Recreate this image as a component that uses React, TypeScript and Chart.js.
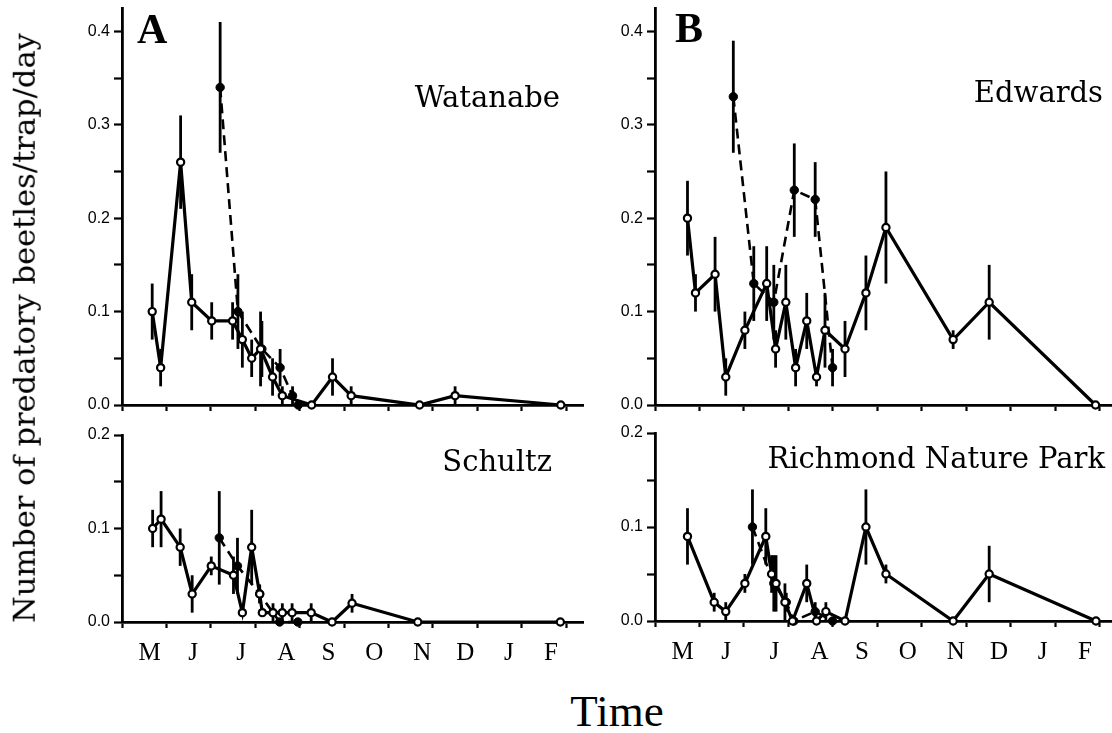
import React, { useEffect, useRef } from "react";
import { Chart, registerables } from "chart.js";

Chart.register(...registerables);

// ---- axis data ----
const monthLetters = ["M", "J", "J", "A", "S", "O", "N", "D", "J", "F"];
const monthLabelAt = [0.62, 1.6, 2.68, 3.7, 4.65, 5.68, 6.76, 7.73, 8.71, 9.66];
const monthBounds = [0, 1, 2, 3, 4, 5, 6, 7, 8, 9, 10];
const yTicksTop = [0, 0.05, 0.1, 0.15, 0.2, 0.25, 0.3, 0.35, 0.4];
const yTicksBottom = [0, 0.05, 0.1, 0.15, 0.2];

// ---- Watanabe ----
const watOpenX = [0.68, 0.87, 1.32, 1.57, 2.02, 2.49, 2.71, 2.92, 3.12, 3.39, 3.61, 4.27, 4.74, 5.16, 6.7, 7.5, 9.88];
const watOpenY = [0.1, 0.04, 0.26, 0.11, 0.09, 0.09, 0.07, 0.05, 0.06, 0.03, 0.01, 0.0, 0.03, 0.01, 0.0, 0.01, 0.0];
const watOpenErr = [0.03, 0.02, 0.05, 0.03, 0.02, 0.02, 0.03, 0.02, 0.04, 0.02, 0.01, 0, 0.02, 0.01, 0, 0.01, 0];
const watFillX = [2.21, 2.61, 3.15, 3.56, 3.84, 3.97];
const watFillY = [0.34, 0.1, 0.06, 0.04, 0.01, 0.0];
const watFillErr = [0.07, 0.04, 0.03, 0.02, 0.01, 0];

// ---- Edwards ----
const edOpenX = [0.73, 0.91, 1.35, 1.59, 2.02, 2.51, 2.71, 2.94, 3.16, 3.41, 3.63, 3.82, 4.27, 4.74, 5.19, 6.7, 7.51, 9.9];
const edOpenY = [0.2, 0.12, 0.14, 0.03, 0.08, 0.13, 0.06, 0.11, 0.04, 0.09, 0.03, 0.08, 0.06, 0.12, 0.19, 0.07, 0.11, 0.0];
const edOpenErr = [0.04, 0.02, 0.04, 0.02, 0.02, 0.04, 0.02, 0.04, 0.02, 0.03, 0.01, 0.04, 0.03, 0.04, 0.06, 0.01, 0.04, 0];
const edFillX = [1.76, 2.22, 2.67, 3.13, 3.6, 3.99];
const edFillY = [0.33, 0.13, 0.11, 0.23, 0.22, 0.04];
const edFillErr = [0.06, 0.04, 0.04, 0.05, 0.04, 0.02];

// ---- Schultz ----
const schOpenX = [0.69, 0.88, 1.31, 1.58, 2.01, 2.51, 2.71, 2.92, 3.1, 3.16, 3.4, 3.61, 3.83, 4.26, 4.73, 5.18, 6.66, 9.87];
const schOpenY = [0.1, 0.11, 0.08, 0.03, 0.06, 0.05, 0.01, 0.08, 0.03, 0.01, 0.01, 0.01, 0.01, 0.01, 0.0, 0.02, 0.0, 0.0];
const schOpenErr = [0.02, 0.03, 0.02, 0.02, 0.01, 0.02, 0, 0.04, 0.01, 0, 0.01, 0.01, 0.01, 0.01, 0, 0.01, 0, 0];
const schFillX = [2.19, 2.6, 3.1, 3.4, 3.55, 3.96];
const schFillY = [0.09, 0.06, 0.03, 0.01, 0.0, 0.0];
const schFillErr = [0.05, 0.03, 0.01, 0, 0, 0];

// ---- Richmond Nature Park ----
const rnOpenX = [0.73, 1.33, 1.59, 2.02, 2.49, 2.62, 2.72, 2.92, 3.09, 3.41, 3.63, 3.84, 4.27, 4.74, 5.19, 6.7, 7.51, 9.91];
const rnOpenY = [0.09, 0.02, 0.01, 0.04, 0.09, 0.05, 0.04, 0.02, 0.0, 0.04, 0.0, 0.01, 0.0, 0.1, 0.05, 0.0, 0.05, 0.0];
const rnOpenErr = [0.03, 0.01, 0.01, 0.01, 0.03, 0.02, 0.03, 0.02, 0, 0.02, 0, 0.01, 0, 0.04, 0.01, 0, 0.03, 0];
const rnFillX = [2.19, 2.67, 2.95, 3.12, 3.6, 3.99];
const rnFillY = [0.1, 0.04, 0.02, 0.0, 0.01, 0.0];
const rnFillErr = [0.04, 0.03, 0.01, 0, 0.01, 0];

type PanelSpec = {
  openX: number[]; openY: number[]; openErr: number[];
  fillX: number[]; fillY: number[]; fillErr: number[];
  yMax: number; yTicks: number[]; xMax: number;
  left: number; right: number; top: number; bottom: number;
  months: boolean;
};

const panels: PanelSpec[] = [
  { openX: watOpenX, openY: watOpenY, openErr: watOpenErr, fillX: watFillX, fillY: watFillY, fillErr: watFillErr,
    yMax: 0.425, yTicks: yTicksTop, xMax: 10.38, left: 122, right: 583, top: 8, bottom: 404.5, months: false },
  { openX: edOpenX, openY: edOpenY, openErr: edOpenErr, fillX: edFillX, fillY: edFillY, fillErr: edFillErr,
    yMax: 0.425, yTicks: yTicksTop, xMax: 10.27, left: 655, right: 1112, top: 8, bottom: 404.5, months: false },
  { openX: schOpenX, openY: schOpenY, openErr: schOpenErr, fillX: schFillX, fillY: schFillY, fillErr: schFillErr,
    yMax: 0.2, yTicks: yTicksBottom, xMax: 10.38, left: 122, right: 583, top: 435, bottom: 622, months: true },
  { openX: rnOpenX, openY: rnOpenY, openErr: rnOpenErr, fillX: rnFillX, fillY: rnFillY, fillErr: rnFillErr,
    yMax: 0.2, yTicks: yTicksBottom, xMax: 10.27, left: 655, right: 1112, top: 433, bottom: 621, months: true },
];

const errorBars = {
  id: "errorBars",
  beforeDatasetsDraw(chart: any) {
    const { ctx } = chart;
    const ys = chart.scales.y;
    ctx.save();
    ctx.strokeStyle = "#000";
    ctx.lineWidth = 2.8;
    chart.data.datasets.forEach((ds: any, i: number) => {
      const meta = chart.getDatasetMeta(i);
      (ds.errors || []).forEach((e: number, j: number) => {
        if (!e) return;
        const p = meta.data[j];
        const v = ds.data[j].y;
        ctx.beginPath();
        ctx.moveTo(p.x, ys.getPixelForValue(v + e));
        ctx.lineTo(p.x, ys.getPixelForValue(Math.max(0, v - e)));
        ctx.stroke();
      });
    });
    ctx.restore();
  },
};

const Y_W = 70, PAD_T = 20, PAD_R = 12, PAD_B = 4;

function PanelChart({ spec }: { spec: PanelSpec }) {
  const ref = useRef<HTMLCanvasElement>(null);
  const xH = spec.months ? 48 : 12;
  const cw = Math.round(Y_W + (spec.right - spec.left) + PAD_R);
  const ch = Math.round(PAD_T + (spec.bottom - spec.top) + xH + PAD_B);
  useEffect(() => {
    const xTicks = spec.months
      ? [...monthBounds, ...monthLabelAt].sort((a, b) => a - b)
      : monthBounds;
    const isBound = (v: number) => monthBounds.some((b) => Math.abs(b - v) < 1e-6);
    const chart = new Chart(ref.current as HTMLCanvasElement, {
      type: "line",
      data: {
        datasets: [
          {
            data: spec.openX.map((x, i) => ({ x, y: spec.openY[i] })),
            errors: spec.openErr,
            borderColor: "#000",
            borderWidth: 3.2,
            pointRadius: 3.6,
            pointHoverRadius: 3.6,
            pointBackgroundColor: "#fff",
            pointBorderColor: "#000",
            pointBorderWidth: 2.2,
            tension: 0,
            clip: false,
          } as any,
          {
            data: spec.fillX.map((x, i) => ({ x, y: spec.fillY[i] })),
            errors: spec.fillErr,
            borderColor: "#000",
            borderWidth: 2.6,
            borderDash: [10, 6],
            pointRadius: 4.2,
            pointHoverRadius: 4.2,
            pointBackgroundColor: "#000",
            pointBorderColor: "#000",
            pointBorderWidth: 1,
            tension: 0,
            clip: false,
          } as any,
        ],
      },
      options: {
        responsive: false,
        animation: false,
        events: [],
        layout: { padding: { left: 0, top: PAD_T, right: PAD_R, bottom: PAD_B } },
        plugins: { legend: { display: false }, tooltip: { enabled: false }, title: { display: false } },
        scales: {
          x: {
            type: "linear",
            min: 0,
            max: spec.xMax,
            afterFit: (s: any) => { s.height = xH; },
            afterBuildTicks: (s: any) => { s.ticks = xTicks.map((v) => ({ value: v })); },
            border: { display: true, color: "#000", width: 2.8 },
            grid: {
              display: true,
              drawOnChartArea: false,
              drawTicks: true,
              tickLength: 6,
              tickWidth: 2.2,
              tickColor: (ctx: any) => (ctx.tick && isBound(ctx.tick.value) ? "#000" : "rgba(0,0,0,0)"),
            },
            ticks: {
              display: spec.months,
              autoSkip: false,
              maxRotation: 0,
              minRotation: 0,
              padding: 10,
              color: "#000",
              font: { family: "'Liberation Serif', serif", size: 25 },
              callback: (v: any) => {
                const i = monthLabelAt.findIndex((m) => Math.abs(m - Number(v)) < 1e-6);
                return i >= 0 ? monthLetters[i] : "";
              },
            },
          },
          y: {
            type: "linear",
            min: 0,
            max: spec.yMax,
            afterFit: (s: any) => { s.width = Y_W; },
            afterBuildTicks: (s: any) => { s.ticks = spec.yTicks.map((v) => ({ value: v })); },
            border: { display: true, color: "#000", width: 2.8 },
            grid: { display: true, drawOnChartArea: false, drawTicks: true, tickLength: 8, tickWidth: 2.2, tickColor: "#000" },
            ticks: {
              padding: 4,
              color: "#000",
              font: { family: "'Liberation Sans', sans-serif", size: 16 },
              callback: (v: any) => {
                const n = Number(v);
                return Math.abs(n * 10 - Math.round(n * 10)) < 1e-6 ? n.toFixed(1) : "";
              },
            },
          },
        },
      } as any,
      plugins: [errorBars],
    });
    return () => chart.destroy();
  }, []);
  return (
    <canvas
      ref={ref}
      width={cw}
      height={ch}
      style={{ position: "absolute", left: spec.left - Y_W, top: spec.top - PAD_T, width: cw, height: ch }}
    />
  );
}

function Txt(props: { text: string; x: number; baseline: number; size: number; family: string; bold?: boolean; align?: "left" | "right" | "center" }) {
  const { text, x, baseline, size, family, bold, align = "left" } = props;
  const top = baseline - 0.84 * size;
  const w = 600;
  const left = align === "left" ? x : align === "right" ? x - w : x - w / 2;
  return (
    <div
      style={{
        position: "absolute",
        left,
        top,
        width: w,
        textAlign: align,
        fontFamily: family,
        fontSize: size,
        lineHeight: 1,
        fontWeight: bold ? "bold" : "normal",
        whiteSpace: "nowrap",
        color: "#000",
      }}
    >
      {text}
    </div>
  );
}

export default function App() {
  const serif = "'DejaVu Serif', serif";
  const times = "'Liberation Serif', serif";
  return (
    <div style={{ position: "absolute", left: 0, top: 0, width: 1112, height: 733, background: "#fff", overflow: "hidden" }}>
      {panels.map((p, i) => (
        <PanelChart key={i} spec={p} />
      ))}
      <Txt text="A" x={137} baseline={43} size={42} family={times} bold />
      <Txt text="B" x={675} baseline={42} size={42} family={times} bold />
      <Txt text="Watanabe" x={560} baseline={107} size={29} family={serif} align="right" />
      <Txt text="Edwards" x={1103} baseline={102} size={29} family={serif} align="right" />
      <Txt text="Schultz" x={552} baseline={471} size={29} family={serif} align="right" />
      <Txt text="Richmond Nature Park" x={1105} baseline={468} size={29} family={serif} align="right" />
      <Txt text="Time" x={617} baseline={727} size={45} family={times} align="center" />
      <div
        style={{
          position: "absolute",
          left: 25,
          top: 328,
          transform: "translate(-50%, -50%) rotate(-90deg)",
          fontFamily: serif,
          fontSize: 30.5,
          lineHeight: 1,
          whiteSpace: "nowrap",
          color: "#000",
        }}
      >
        Number of predatory beetles/trap/day
      </div>
    </div>
  );
}
